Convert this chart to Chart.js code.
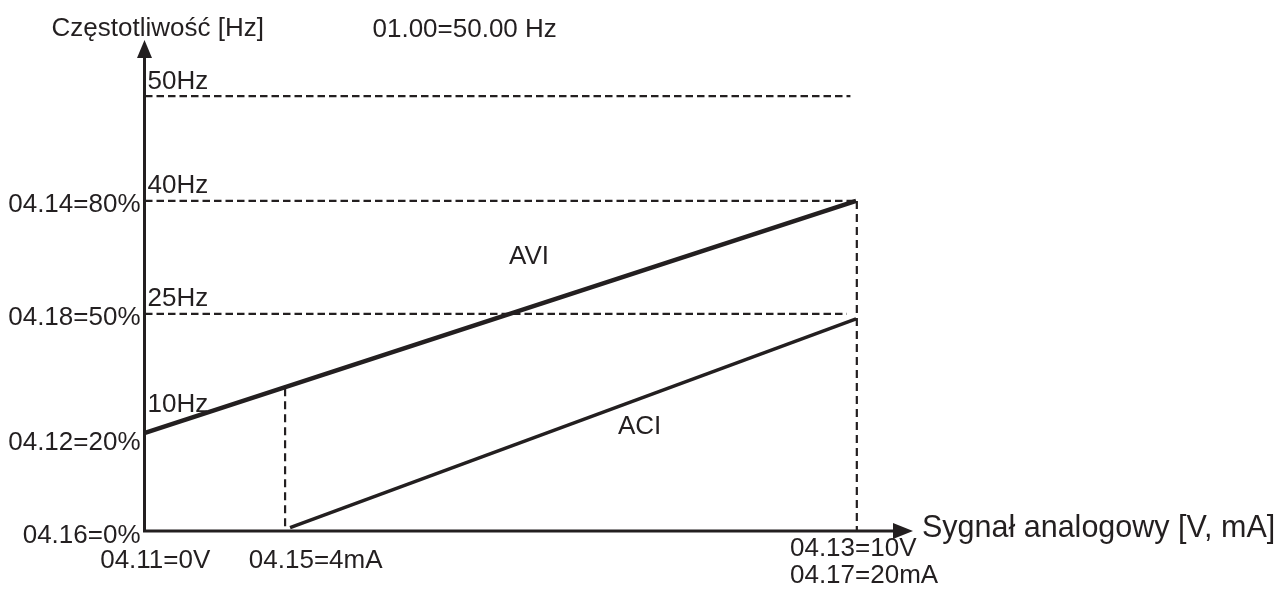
<!DOCTYPE html>
<html>
<head>
<meta charset="utf-8">
<script src="https://cdn.jsdelivr.net/npm/chart.js@4/dist/chart.umd.min.js"></script>
<style>
  html, body { margin: 0; padding: 0; background: #fff; }
  #wrap { width: 1282px; height: 592px; position: relative; }
</style>
</head>
<body>
<div id="wrap"><canvas id="myChart"></canvas></div>
<script>
// values (x: % of analog signal, y: position on frequency axis)
const aviX = [0, 100];
const aviY = [11.9, 40];
const aciX = [20.4, 100];
const aciY = [0.4, 25.7];

// dashed guide levels and where they stop
const guideLevels = [52.7, 40, 26.3];
const guideEnds = [99.2, 100, 98.7];

// vertical dashed guides
const dropX = [19.7, 100.1];
const dropTop = [17.3, 40];

const hzLabels = ['50Hz', '40Hz', '25Hz', '10Hz'];
const hzAt = [52.7, 40, 26.3, 13.5];
const pctLabels = ['04.14=80%', '04.18=50%', '04.12=20%', '04.16=0%'];
const pctAt = [40, 26.3, 11.2, 0];
const signalLabels = [['04.11=0V'], ['04.15=4mA'], ['04.13=10V', '04.17=20mA']];
const signalAt = [-6.3, 14.6, 90.7];

const ink = '#231f20';
const font = '"Liberation Sans", Arial, sans-serif';

const datasets = [];
guideLevels.forEach(function (lv, i) {
  datasets.push({
    data: [{ x: 0, y: lv }, { x: guideEnds[i], y: lv }],
    borderColor: ink, borderWidth: 2.2, borderDash: [7.5, 4],
  });
});
dropX.forEach(function (dx, i) {
  datasets.push({
    data: [{ x: dx, y: dropTop[i] }, { x: dx, y: 0 }],
    borderColor: ink, borderWidth: 2.2, borderDash: [8, 5],
  });
});
datasets.push({
  data: aviX.map(function (v, i) { return { x: v, y: aviY[i] }; }),
  borderColor: ink, borderWidth: 4.5,
});
datasets.push({
  data: aciX.map(function (v, i) { return { x: v, y: aciY[i] }; }),
  borderColor: ink, borderWidth: 3.5,
});
datasets.forEach(function (d) {
  d.showLine = true;
  d.pointRadius = 0;
  d.clip = false;
  d.borderCapStyle = 'butt';
});

// axes with arrows and all the annotations
const drawingPlugin = {
  id: 'drawing',
  afterDatasetsDraw(chart) {
    const ctx = chart.ctx;
    const sx = chart.scales.x, sy = chart.scales.y;
    const x0 = sx.getPixelForValue(0) - 0.5;
    const y0 = sy.getPixelForValue(0);
    const top = sy.getPixelForValue(sy.max);
    const right = sx.getPixelForValue(sx.max);

    ctx.save();
    ctx.strokeStyle = ink;
    ctx.fillStyle = ink;
    ctx.lineWidth = 3;
    ctx.beginPath();
    ctx.moveTo(x0, top + 14);
    ctx.lineTo(x0, y0);
    ctx.lineTo(right - 16, y0);
    ctx.stroke();

    ctx.beginPath();
    ctx.moveTo(x0, top);
    ctx.lineTo(x0 - 7.5, top + 18);
    ctx.lineTo(x0 + 7.5, top + 18);
    ctx.closePath();
    ctx.fill();

    ctx.beginPath();
    ctx.moveTo(right, y0);
    ctx.lineTo(right - 20, y0 - 8);
    ctx.lineTo(right - 20, y0 + 8);
    ctx.closePath();
    ctx.fill();

    ctx.font = '26px ' + font;
    ctx.textBaseline = 'alphabetic';

    ctx.textAlign = 'left';
    ctx.fillText('Częstotliwość [Hz]', x0 - 93, top - 4);
    ctx.fillText('01.00=50.00 Hz', x0 + 228, top - 3);

    hzLabels.forEach(function (t, i) {
      ctx.fillText(t, x0 + 3, sy.getPixelForValue(hzAt[i]) - 7.5);
    });

    ctx.textAlign = 'right';
    pctLabels.forEach(function (t, i) {
      ctx.fillText(t, x0 - 4, sy.getPixelForValue(pctAt[i]) + 11.5);
    });

    ctx.textAlign = 'left';
    signalLabels.forEach(function (lines, i) {
      lines.forEach(function (t, j) {
        const off = lines.length > 1 ? 25 + j * 27 : 37;
        ctx.fillText(t, sx.getPixelForValue(signalAt[i]), y0 + off);
      });
    });

    ctx.fillText('AVI', sx.getPixelForValue(51.2), sy.getPixelForValue(32.3));
    ctx.fillText('ACI', sx.getPixelForValue(66.5), sy.getPixelForValue(11.8));

    ctx.font = '30.5px ' + font;
    ctx.fillText('Sygnał analogowy [V, mA]', right + 9, y0 + 6);
    ctx.restore();
  }
};

const config = {
  type: 'scatter',
  data: { datasets: datasets },
  options: {
    responsive: true,
    maintainAspectRatio: false,
    animation: false,
    layout: { padding: { left: 145, right: 369, top: 40, bottom: 61 } },
    plugins: { legend: { display: false }, tooltip: { enabled: false } },
    scales: {
      x: { type: 'linear', min: 0, max: 108, display: false },
      y: { type: 'linear', min: 0, max: 59.5, display: false },
    },
  },
  plugins: [drawingPlugin],
};

var ctx = document.getElementById('myChart');
var myChart = new Chart(ctx, config);
</script>
</body>
</html>
